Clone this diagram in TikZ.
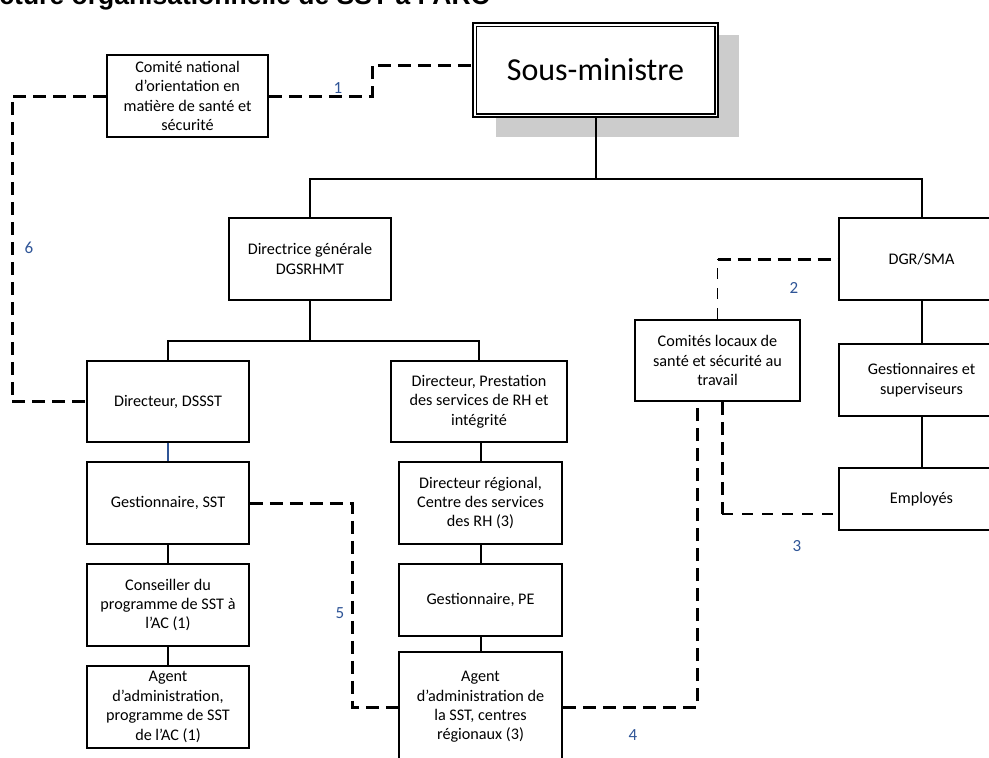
\documentclass[tikz,border=0pt]{standalone}
\usepackage{fontspec}
\setmainfont{Carlito}
\newfontfamily\titlefam{Liberation Sans}
\usetikzlibrary{calc}
\definecolor{lblblue}{RGB}{47,85,151}
\definecolor{shadowgray}{RGB}{204,204,204}
\tikzset{
  box/.style={draw=black, line width=1.6pt, fill=white, inner sep=0pt, align=center,
    font=\fontsize{16.2}{19.4}\selectfont},
  tree/.style={draw=black, line width=2pt},
  thickdash/.style={draw=black, line width=3pt, dash pattern=on 13pt off 7pt},
  thindash/.style={draw=black, line width=1.1pt, dash pattern=on 11pt off 9pt},
  numlbl/.style={text=lblblue, inner sep=0pt, font=\fontsize{17}{20}\selectfont},
}
\begin{document}
\begin{tikzpicture}[x=1pt,y=-1pt]
\useasboundingbox (0,0) rectangle (989,758);
\clip (0,0) rectangle (989,758);

% title (cut off at the top)
\node[anchor=base east, inner sep=0pt, font=\titlefam\bfseries\fontsize{26.5}{30}\selectfont] (title) at (490,4.5) {Structure organisationnelle de SST à l’ARC};

% shadow of the top box
\fill[shadowgray] (496,35) rectangle (739,137);

% boxes
\node[box, minimum width=245pt, minimum height=94pt, font=\fontsize{32}{36}\selectfont] (sous) at (595.5,70) {Sous-ministre};
\draw[line width=1.4pt] ([shift={(4,4)}]sous.north west) rectangle ([shift={(-4,-4)}]sous.south east);

\node[box, minimum width=161pt, minimum height=82pt] (comite) at (187.5,96) {Comité national\\d’orientation en\\matière de santé et\\sécurité};
\node[box, minimum width=162pt, minimum height=82pt] (directrice) at (310,259) {Directrice générale\\DGSRHMT};
\node[box, minimum width=165pt, minimum height=82pt] (dgr) at (921.5,259) {DGR/SMA};
\node[box, minimum width=162pt, minimum height=81pt] (dsssst) at (168,401.5) {Directeur, DSSST};
\node[box, minimum width=176pt, minimum height=81pt] (prest) at (479,401.5) {Directeur, Prestation\\des services de RH et\\intégrité};
\node[box, minimum width=165pt, minimum height=81pt] (comites) at (717.5,360.5) {Comités locaux de\\santé et sécurité au\\travail};
\node[box, minimum width=165pt, minimum height=72pt] (gestsup) at (921.5,380) {Gestionnaires et\\superviseurs};
\node[box, minimum width=162pt, minimum height=82pt] (gestsst) at (168,503) {Gestionnaire, SST};
\node[box, minimum width=163pt, minimum height=82pt] (dirreg) at (480.5,503) {Directeur régional,\\Centre des services\\des RH (3)};
\node[box, minimum width=165pt, minimum height=62pt] (employes) at (921.5,499) {Employés};
\node[box, minimum width=162pt, minimum height=82pt] (conseiller) at (168,605) {Conseiller du\\programme de SST à\\l’AC (1)};
\node[box, minimum width=163pt, minimum height=72pt] (gestpe) at (480.5,600) {Gestionnaire, PE};
\node[box, minimum width=162pt, minimum height=82pt] (agentac) at (168,707) {Agent\\d’administration,\\programme de SST\\de l’AC (1)};
\node[box, minimum width=163pt, minimum height=110pt] (agentsst) at (480.5,707) {Agent\\d’administration de\\la SST, centres\\régionaux (3)};

% tree connectors
\coordinate (topbar) at (595.5,179);
\draw[tree] (sous.south) -- (topbar);
\draw[tree] (directrice.north) |- (topbar) -| (dgr.north);
\coordinate (midbar) at (310,341);
\draw[tree] (directrice.south) -- (midbar);
\draw[tree] (dsssst.north) |- (midbar) -| (prest.north);
\draw[draw=lblblue, line width=1.3pt] (dsssst.south) -- (gestsst.north);
\draw[tree] (gestsst.south) -- (conseiller.north);
\draw[tree] (conseiller.south) -- (agentac.north);
\draw[tree] (prest.south -| dirreg.north) -- (dirreg.north);
\draw[tree] (dirreg.south) -- (gestpe.north);
\draw[tree] (gestpe.south) -- (agentsst.north);
\draw[tree] (dgr.south) -- (gestsup.north);
\draw[tree] (gestsup.south) -- (employes.north);

% dashed connectors
\coordinate (c1a) at (372,96);
\coordinate (c1b) at (372,65);
\draw[thickdash] (comite.east) -- (c1a) -- (c1b) -- (c1b -| sous.west);
\coordinate (c6) at (12,96);
\draw[thickdash] (comite.west) -- (c6) |- (dsssst.west);
\coordinate (c5) at (352,503);
\draw[thickdash] (gestsst.east) -- (c5) |- (agentsst.west);
\coordinate (c4) at (697,707);
\draw[thickdash] (agentsst.east) -- (c4) -- (c4 |- comites.south);
\coordinate (c3) at (722,514);
\draw[thickdash] (c3 |- comites.south) -- (c3);
\draw[thindash] (c3) -- (c3 -| employes.west);
\coordinate (c2) at (comites.north |- dgr.west);
\draw[thindash] (comites.north) -- (c2);
\draw[thickdash] (c2) -- (dgr.west);

% labels
\node[numlbl] (l1) at (338,88) {1};
\node[numlbl] (l2) at (794,288) {2};
\node[numlbl] (l3) at (797,546) {3};
\node[numlbl] (l4) at (633,735) {4};
\node[numlbl] (l5) at (340,613) {5};
\node[numlbl] (l6) at (29,248) {6};
\end{tikzpicture}
\end{document}
